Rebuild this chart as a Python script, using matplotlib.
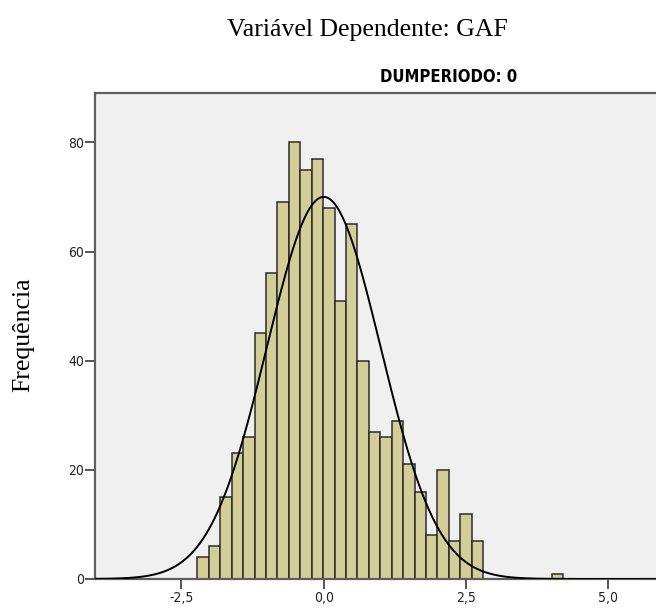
import numpy as np
import matplotlib
matplotlib.use("Agg")
import matplotlib.pyplot as plt

# ---- data ----
bin_start = -2.22
bin_width = 0.2008
counts = [4, 6, 15, 23, 26, 45, 56, 69, 80, 75, 77, 68, 51, 65, 40,
          27, 26, 29, 21, 16, 8, 20, 7, 12, 7,
          0, 0, 0, 0, 0, 0, 1]
curve_mean = 0.0
curve_sd = 1.0
n_total = sum(counts)

x_ticks = [-2.5, 0.0, 2.5, 5.0]
x_tick_labels = ["-2,5", "0,0", "2,5", "5,0"]
y_ticks = [0, 20, 40, 60, 80]
y_tick_labels = ["0", "20", "40", "60", "80"]

title = "Variável Dependente: GAF"
panel_title = "DUMPERIODO: 0"
y_label = "Frequência"

# ---- figure ----
W, H = 656, 608
fig = plt.figure(figsize=(W / 100, H / 100), dpi=100)
fig.patch.set_facecolor("white")

left_px, right_px, top_px, bottom_px = 95, 662.6, 92.7, 579
ax = fig.add_axes([left_px / W, 1 - bottom_px / H,
                   (right_px - left_px) / W, (bottom_px - top_px) / H])
ax.set_facecolor("#F0F0F0")

edges = bin_start + bin_width * np.arange(len(counts) + 1)
ax.bar(edges[:-1], counts, width=bin_width, align="edge",
       color="#D3CE98", edgecolor="#2b2b2b", linewidth=1.1, zorder=2)

xs = np.linspace(-4.1, 6.1, 600)
pdf = np.exp(-0.5 * ((xs - curve_mean) / curve_sd) ** 2) / (curve_sd * np.sqrt(2 * np.pi))
ax.plot(xs, n_total * bin_width * pdf, color="black", linewidth=1.4, zorder=3)

ax.set_xlim(-4.02, 5.955)
ax.set_ylim(0, 89.1)

ax.set_xticks(x_ticks)
ax.set_xticklabels(x_tick_labels)
ax.set_yticks(y_ticks)
ax.set_yticklabels(y_tick_labels)
for lab in ax.get_xticklabels() + ax.get_yticklabels():
    lab.set_family(["DejaVu Sans"])
    lab.set_stretch("condensed")
    lab.set_fontsize(10)
    lab.set_color("#222222")
ax.tick_params(axis="both", direction="out", length=7, width=1.4,
               color="#555555", pad=2)
ax.tick_params(axis="y", pad=1)
for s in ax.spines.values():
    s.set_color("#5f5f5f")
    s.set_linewidth(1.6)

fig.text(367 / W, 1 - 30 / H, title, ha="center", va="center",
         family=["Liberation Serif", "DejaVu Serif"], fontsize=18.5)
fig.text(449 / W, 1 - 77 / H, panel_title, ha="center", va="center",
         family=["DejaVu Sans"], stretch="condensed", fontweight="bold",
         fontsize=12)
fig.text(23 / W, 1 - 335 / H, y_label, ha="center", va="center", rotation=90,
         family=["Liberation Serif", "DejaVu Serif"], fontsize=18.5)

fig.savefig("out.png", dpi=100)
